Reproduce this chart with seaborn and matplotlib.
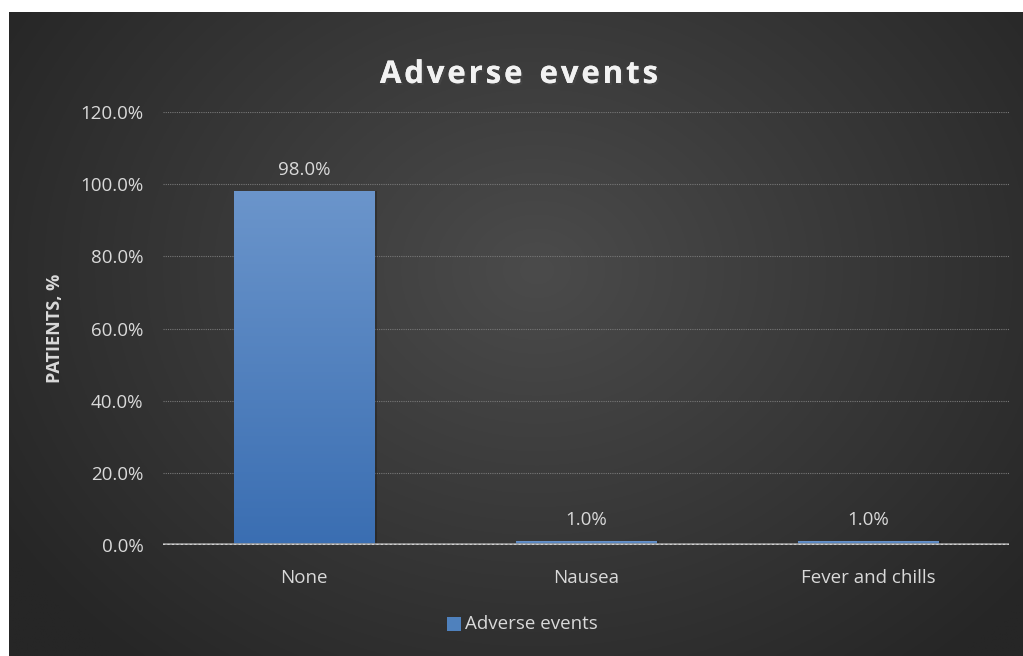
import numpy as np
import pandas as pd
import matplotlib
matplotlib.use("Agg")
import matplotlib.pyplot as plt
import matplotlib.patheffects as pe
from matplotlib.patches import Rectangle
import seaborn as sns

categories = ["None", "Nausea", "Fever and chills"]
values = [98.0, 1.0, 1.0]
series_name = "Adverse events"
title = "Adverse events"
y_ticks = [0, 20, 40, 60, 80, 100, 120]

sns.set_theme(style="dark")
plt.rcParams["font.family"] = ["Open Sans", "DejaVu Sans"]

W, H = 1023, 656
fig = plt.figure(figsize=(W / 100, H / 100), dpi=100)
fig.patch.set_facecolor("white")

# radial gradient backdrop
bg = fig.add_axes([9 / W, 0, 1 - 9 / W, 1 - 12 / H], zorder=0)
ny, nx = 400, 640
yy, xx = np.mgrid[0:ny, 0:nx]
cx, cy = nx * 0.52, ny * 0.40
r = np.sqrt(((xx - cx) / (nx * 0.62)) ** 2 + ((yy - cy) / (ny * 0.80)) ** 2)
r = np.clip(r, 0, 1)
lum = 0x4b / 255 * (1 - r) + 0x26 / 255 * r
img = np.dstack([lum, lum, lum])
bg.imshow(img, aspect="auto", extent=[0, 1, 0, 1], origin="upper")
bg.set_axis_off()

ax = fig.add_axes([163 / W, 1 - 545 / H, (1009 - 163) / W, (545 - 112) / H], zorder=1)
ax.patch.set_alpha(0)

df = pd.DataFrame({"category": categories, "value": values})
sns.barplot(data=df, x="category", y="value", color="#4f81bd", width=0.5,
            ax=ax, zorder=3, saturation=1, linewidth=0)

ax.set_ylim(0, 120)
ax.set_xlim(-0.5, len(categories) - 0.5)

# gradient fill and soft shadow for each bar
grad = np.linspace(0, 1, 256).reshape(-1, 1)
top = np.array([0x6b, 0x95, 0xcb]) / 255
bot = np.array([0x3a, 0x6e, 0xb2]) / 255
gimg = top * (1 - grad[..., None]) + bot * grad[..., None]
gimg = gimg.reshape(256, 1, 3)
for p in list(ax.patches):
    x0, w, h = p.get_x(), p.get_width(), p.get_height()
    sh = Rectangle((x0 + 0.01, 0), w, h, facecolor="black", alpha=0.22,
                   edgecolor="none", zorder=2)
    ax.add_patch(sh)
    im = ax.imshow(gimg, extent=[x0, x0 + w, 0, h], aspect="auto", zorder=3.5,
                   origin="upper")
    im.set_clip_path(p)

for i, v in enumerate(values):
    ax.text(i, v + 3.4, f"{v:.1f}%", ha="center", va="bottom", color="#d9d9d9",
            fontsize=13.5, zorder=5)

ax.set_yticks(y_ticks)
ax.set_yticklabels([f"{t:.1f}%" for t in y_ticks])
ax.tick_params(axis="y", colors="#d9d9d9", labelsize=13.5, length=0, pad=14)
ax.tick_params(axis="x", colors="#d9d9d9", labelsize=13.5, length=0, pad=17)
for t in y_ticks[1:]:
    ax.axhline(t, color="#777777", lw=0.8, ls=(0, (1, 1)), zorder=1)
ax.axhline(0, color="#9a9a9a", lw=2.6, zorder=4)
ax.axhline(0, color="#d0d0d0", lw=1.6, ls=(0, (1, 1)), zorder=4.1)
for s in ax.spines.values():
    s.set_visible(False)
ax.grid(False)
ax.set_xlabel("")
ax.set_ylabel("")
fig.text(55 / W, 1 - 328 / H, "PATIENTS, %", rotation=90, ha="center",
         va="center", color="#d9d9d9", fontsize=13, fontweight="bold")

# spaced-out title with a soft drop shadow
renderer = fig.canvas.get_renderer()
tsize, spacing = 22.5, 2.8
widths = []
for ch in title:
    t = fig.text(0, 0, ch if ch != " " else "n", fontsize=tsize, fontweight="bold")
    bb = t.get_window_extent(renderer)
    widths.append(bb.width * (0.55 if ch == " " else 1.0))
    t.remove()
total = sum(widths) + spacing * (len(title) - 1)
xpos = 519 - total / 2
for ch, w in zip(title, widths):
    if ch != " ":
        fig.text(xpos / W, 1 - 75 / H, ch, ha="left", va="center",
                 color="#f2f2f2", fontsize=tsize, fontweight="bold",
                 path_effects=[pe.withSimplePatchShadow(offset=(1.5, -1.5),
                                                        alpha=0.6),
                               pe.Normal()])
    xpos += w + spacing

# legend
fig.patches.append(Rectangle((447 / W, 1 - 631 / H), 14 / W, 14 / H,
                             transform=fig.transFigure, facecolor="#4f81bd",
                             edgecolor="none"))
fig.text(465 / W, 1 - 624 / H, series_name, ha="left", va="center",
         color="#d9d9d9", fontsize=13.5)

fig.savefig("out.png", dpi=100, facecolor=fig.get_facecolor())
